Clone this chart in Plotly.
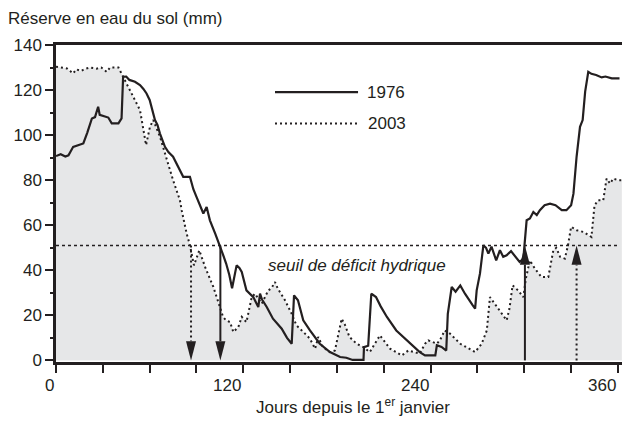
import plotly.graph_objects as go

# ---- data ----
days_1976 = [0, 3, 6, 8, 11, 14, 17.5, 20, 23, 25, 27, 28, 31, 33.5, 35.7, 40, 42, 43, 45, 47,
             50.6, 53.8, 56, 58, 60, 63.4, 65, 66.6, 69.8, 72, 75, 78, 81.5, 85.8, 88, 90,
             94.4, 96.5, 98.6, 102, 105, 107, 109, 111, 112.8, 115.7, 117.5, 119, 122, 126.4,
             129.6, 130.7, 132, 135, 139, 144.6, 148, 151, 152.5, 155, 158.4, 162.7, 169,
             175.5, 182, 186, 190, 197, 197.3, 200, 202, 205, 208, 212, 218, 227, 233, 236.4,
             243, 244, 247, 250, 251, 253.5, 256, 259, 262, 267, 268.5, 269.5, 271.6, 273.8,
             275.5, 277, 279, 282, 284.4, 286.5, 288.7, 291.5, 295, 297, 299.4, 301.5, 303.6,
             305.8, 308, 310, 313, 316.5, 320, 324, 327, 330, 331.5, 333.5, 335.7, 337.4, 339,
             341, 343, 346, 349.6, 352, 356, 361]
vals_1976 = [90.7, 91.5, 90.5, 91, 94.8, 95.5, 96.3, 101, 107.4, 108, 112.6, 109, 108.5, 107.8,
             105.2, 105.2, 107.4, 125.9, 126, 124.5, 123.7, 122.2, 120.5, 118.5, 115.6, 106.7,
             104.5, 100.7, 94.8, 92.5, 90.4, 86, 81.5, 81.5, 76, 72.6, 65.2, 68.1, 62.2, 56.3,
             51.1, 47, 43, 38, 32, 42.2, 41, 39.3, 31.1, 28.1, 23.7, 29.6, 27, 23.7, 18.5,
             14.1, 10, 7.4, 28.9, 26.7, 17.8, 13.3, 7.4, 3.7, 1.5, 1.2, 0.2, 0.2, 5.9, 6.5,
             29.6, 28.1, 24, 19.3, 13.3, 7.4, 3.7, 2.2, 2.2, 6.7, 6, 4.4, 20.7, 32.6, 30.5,
             33.3, 29.6, 24.4, 23, 31.1, 38.5, 51.1, 50, 47.4, 50.5, 44.4, 48.9, 46, 46.7,
             48.5, 45.2, 43.7, 45.2, 62.2, 63, 65.9, 64.5, 66.7, 68.9, 69.6, 68.9, 66.7, 66.7,
             68.9, 74, 90.4, 103.7, 106.7, 119.3, 128.1, 127.2, 126.7, 125.6, 126, 125.2, 125.2]

days_2003 = [0, 3, 7, 9, 11, 13, 16, 19, 22, 26, 29, 32.5, 34.6, 40, 42, 45, 49.5, 53.8, 56,
             57.7, 60.2, 62.3, 66.6, 71, 75, 79.4, 80.5, 83.7, 85.8, 88.4, 91.8, 95.5, 100.8,
             105, 107, 109, 111.5, 113.6, 116.8, 119, 122, 125.4, 127.5, 131.8, 136, 138,
             140.3, 142, 146.7, 151, 154, 159.5, 162.7, 166, 168, 171, 175.5, 178.7, 183, 185,
             188, 192.6, 197, 201, 207.5, 214, 221.5, 225.7, 233, 236.4, 238.5, 244, 246, 249,
             252.4, 259, 268.5, 272.7, 276, 278, 283.4, 288.7, 290.5, 292.5, 296, 299.4, 301,
             303.6, 306.8, 311, 315.4, 318.6, 320.5, 323, 326, 328, 330, 333.5, 338, 343, 345,
             347.4, 350.6, 352.7, 355, 357, 360, 362.5]
vals_2003 = [130.4, 130, 129.6, 128.5, 127.4, 129.2, 128.5, 129.5, 130, 129.5, 130, 128.1, 130,
             130, 127.4, 122.9, 117, 111.1, 102.2, 95.6, 103.7, 106.7, 99.3, 88.9, 80, 71.1,
             66.7, 56.3, 51.1, 42.2, 48.9, 41.5, 32.6, 23.7, 19.3, 17.8, 17, 12.6, 14.8, 19.3,
             17, 28.1, 29.6, 25.2, 31.1, 32, 34.8, 32, 26.7, 20.7, 15.6, 11.9, 9.6, 5.2, 10.4,
             5.9, 3.7, 4.4, 18.5, 16, 10.4, 7.4, 5.9, 3.7, 11.1, 5.2, 2.2, 4.4, 3, 7.4, 8.9,
             7.4, 9, 13.3, 11.9, 7.4, 3.7, 7.4, 13.3, 28.1, 23, 17.8, 23, 33.3, 31.1, 28.1,
             36.3, 44.4, 40.7, 37, 37, 48.9, 50, 45.9, 45.2, 51.1, 59.3, 57.8, 57, 54.8, 68.9,
             71.1, 71.1, 80.7, 78.5, 80.7, 80, 80]

threshold = 51
threshold_end = 360
arrows_down = [(86.5, "dot"), (105.3, "solid")]   # day the reserve falls below the threshold
arrows_up = [(300.4, "solid"), (333.5, "dot")]     # day it rises back above
x_ticks = list(range(0, 361, 30))
x_labels = [0, 120, 240, 360]
y_major = list(range(0, 141, 20))
series_names = ["1976", "2003"]

INK = "#231f20"
FONT = "Liberation Sans, Arial, Helvetica, sans-serif"
FS = 17
DOT = "2px,3px"

fig = go.Figure()
fig.add_trace(go.Scatter(x=days_2003, y=vals_2003, mode="lines", fill="tozeroy",
                         fillcolor="#e6e7e8", line=dict(color=INK, width=2, dash=DOT),
                         showlegend=False))
fig.add_trace(go.Scatter(x=days_1976, y=vals_1976, mode="lines",
                         line=dict(color=INK, width=2.2), showlegend=False))

shapes = []
# threshold
shapes.append(dict(type="line", xref="x", yref="y", x0=0, x1=threshold_end, y0=threshold,
                   y1=threshold, line=dict(color=INK, width=1.6, dash="3px,3px")))
hw, hh = 3.2, 8.5
for d, style in arrows_down:
    shapes.append(dict(type="line", xref="x", yref="y", x0=d, x1=d, y0=threshold, y1=hh,
                       line=dict(color=INK, width=2, dash=DOT if style == "dot" else "solid")))
    shapes.append(dict(type="path", xref="x", yref="y",
                       path=f"M {d-hw},{hh} L {d+hw},{hh} L {d},0 Z",
                       fillcolor=INK, line=dict(width=0)))
for d, style in arrows_up:
    shapes.append(dict(type="line", xref="x", yref="y", x0=d, x1=d, y0=0, y1=threshold - hh,
                       line=dict(color=INK, width=2, dash=DOT if style == "dot" else "solid")))
    shapes.append(dict(type="path", xref="x", yref="y",
                       path=f"M {d-hw},{threshold-hh} L {d+hw},{threshold-hh} L {d},{threshold} Z",
                       fillcolor=INK, line=dict(width=0)))
# legend samples
shapes.append(dict(type="line", xref="x", yref="y", x0=140.3, x1=193.5, y0=119.1, y1=119.1,
                   line=dict(color=INK, width=2.2)))
shapes.append(dict(type="line", xref="x", yref="y", x0=140.3, x1=193.5, y0=105.2, y1=105.2,
                   line=dict(color=INK, width=2, dash=DOT)))

ann = []
ann.append(dict(text=series_names[0], x=198, y=118.8, xref="x", yref="y", xanchor="left",
                yanchor="middle", showarrow=False, font=dict(size=FS, color=INK, family=FONT)))
ann.append(dict(text=series_names[1], x=198.5, y=105.2, xref="x", yref="y", xanchor="left",
                yanchor="middle", showarrow=False, font=dict(size=FS, color=INK, family=FONT)))
ann.append(dict(text="<i>seuil de déficit hydrique</i>", x=193, y=42.2, xref="x", yref="y",
                xanchor="center", yanchor="middle", showarrow=False,
                font=dict(size=FS, color=INK, family=FONT)))
for v in x_labels:
    ann.append(dict(text=str(v), x=v, y=-0.073, xref="x", yref="paper", xanchor="right",
                    yanchor="middle", showarrow=False,
                    font=dict(size=FS, color=INK, family=FONT)))
ann.append(dict(text="Réserve en eau du sol (mm)", x=-0.088, y=1.085, xref="paper",
                yref="paper", xanchor="left", yanchor="middle", showarrow=False,
                font=dict(size=FS, color=INK, family=FONT)))
ann.append(dict(text="Jours depuis le 1<sup>er</sup> janvier", x=0.525, y=-0.138,
                xref="paper", yref="paper", xanchor="center", yanchor="middle",
                showarrow=False, font=dict(size=FS, color=INK, family=FONT)))

fig.update_layout(
    width=624, height=433,
    margin=dict(l=56, r=2, t=45, b=71),
    paper_bgcolor="white", plot_bgcolor="white",
    shapes=shapes, annotations=ann,
    font=dict(family=FONT, size=FS, color=INK),
    xaxis=dict(range=[0, 362.6], showgrid=False, zeroline=False, showline=True,
               linecolor=INK, linewidth=2.5, mirror=True, ticks="outside", ticklen=8,
               tickwidth=2, tickcolor=INK, tickvals=x_ticks, showticklabels=False),
    yaxis=dict(range=[-0.7, 140], showgrid=False, zeroline=False, showline=True,
               linecolor=INK, linewidth=2.5, ticks="outside", ticklen=8, tickwidth=2,
               tickcolor=INK, tickvals=y_major, automargin=False,
               minor=dict(dtick=10, ticks="outside", ticklen=3, tickwidth=1.5,
                          tickcolor=INK, showgrid=False),
               tickfont=dict(size=FS, color=INK, family=FONT)),
)

fig.write_html("out.html", config={"displayModeBar": False},
               post_script="document.body.style.margin='0';document.body.style.overflow='hidden';")
